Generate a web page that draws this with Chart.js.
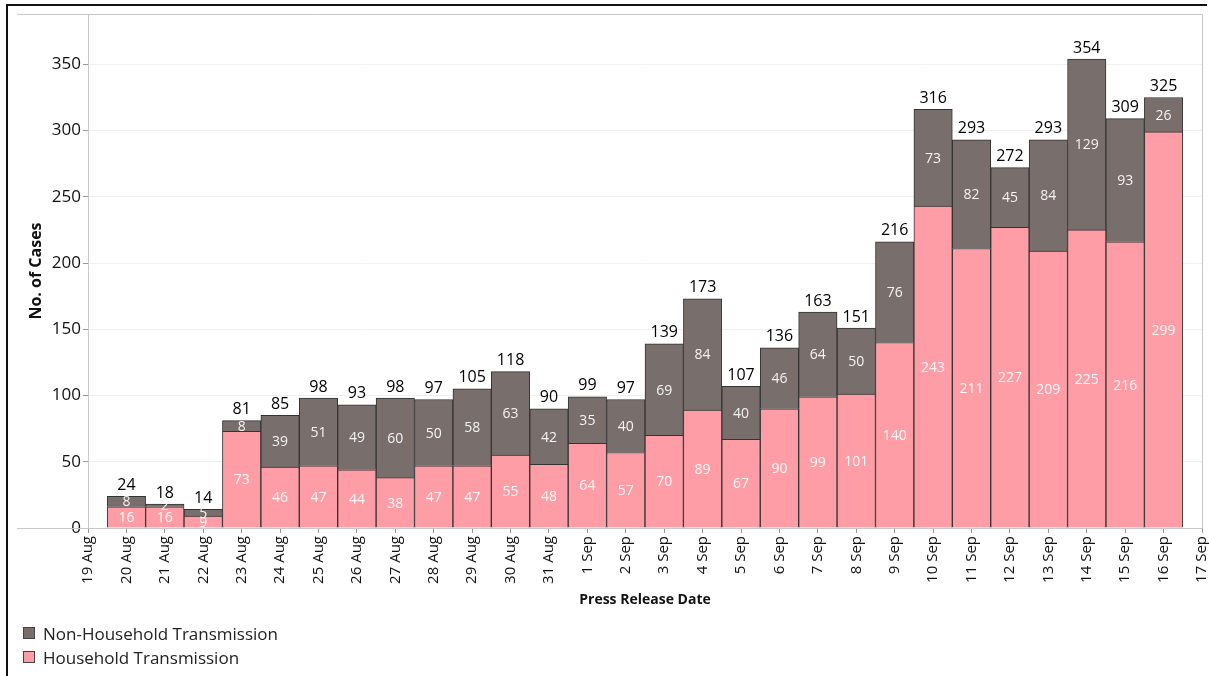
<!DOCTYPE html>
<html>
<head>
<meta charset="utf-8">
<script src="https://cdn.jsdelivr.net/npm/chart.js@4.4.1/dist/chart.umd.min.js"></script>
<style>
  html, body { margin: 0; padding: 0; background: #fff; }
  body { width: 1209px; height: 676px; position: relative; overflow: hidden; font-family: "Open Sans", sans-serif; }
  #frame { position: absolute; left: 6px; top: 4px; width: 1199px; height: 680px; border-top: 2px solid #111; border-left: 2px solid #111; }
  #wrap { position: absolute; left: 0; top: 0; width: 1209px; height: 676px; }
  #legend { position: absolute; left: 23px; top: 621px; font-size: 17px; color: #222; }
  .item { display: flex; align-items: center; height: 24px; }
  .swatch { width: 10px; height: 10px; border: 1px solid #444; margin-right: 8px; }
</style>
</head>
<body>
<div id="frame"></div>
<div id="wrap"><canvas id="chart" width="1209" height="676"></canvas></div>
<div id="legend">
  <div class="item"><span class="swatch" style="background:#786e6b"></span>Non-Household Transmission</div>
  <div class="item"><span class="swatch" style="background:#ff9da6"></span>Household Transmission</div>
</div>
<script>
// axis labels: one day before and after the bars
const dateLabels = [
  "19 Aug", "20 Aug", "21 Aug", "22 Aug", "23 Aug", "24 Aug", "25 Aug", "26 Aug", "27 Aug",
  "28 Aug", "29 Aug", "30 Aug", "31 Aug", "1 Sep", "2 Sep", "3 Sep", "4 Sep", "5 Sep",
  "6 Sep", "7 Sep", "8 Sep", "9 Sep", "10 Sep", "11 Sep", "12 Sep", "13 Sep", "14 Sep",
  "15 Sep", "16 Sep", "17 Sep"
];

// 20 Aug .. 16 Sep
const household = [16, 16, 9, 73, 46, 47, 44, 38, 47, 47, 55, 48, 64, 57, 70, 89, 67, 90, 99, 101, 140, 243, 211, 227, 209, 225, 216, 299];
const nonHousehold = [8, 2, 5, 8, 39, 51, 49, 60, 50, 58, 63, 42, 35, 40, 69, 84, 40, 46, 64, 50, 76, 73, 82, 45, 84, 129, 93, 26];

const yTicks = [0, 50, 100, 150, 200, 250, 300, 350];

const pad = arr => [null, ...arr, null];

const FONT = "'Open Sans', sans-serif";

// 🔹 value labels inside segments + totals on top
const labelPlugin = {
  id: "labels",
  afterDatasetsDraw(chart) {
    const ctx = chart.ctx;
    ctx.save();
    ctx.textAlign = "center";
    ctx.textBaseline = "middle";
    ctx.font = "14px " + FONT;
    ctx.fillStyle = "rgba(255,255,255,0.92)";
    chart.data.datasets.forEach((ds, di) => {
      chart.getDatasetMeta(di).data.forEach((el, i) => {
        if (ds.data[i] == null) return;
        ctx.fillText(ds.data[i], el.x, (el.y + el.base) / 2 + 1);
      });
    });
    const topMeta = chart.getDatasetMeta(1);
    ctx.font = "16px " + FONT;
    ctx.fillStyle = "#000";
    ctx.textBaseline = "bottom";
    topMeta.data.forEach((el, i) => {
      const a = chart.data.datasets[0].data[i];
      const b = chart.data.datasets[1].data[i];
      if (a == null) return;
      ctx.fillText(a + b, el.x, el.y - 3);
    });
    ctx.restore();
  }
};

// 🔹 pane borders (Tableau style)
const panePlugin = {
  id: "pane",
  afterDraw(chart) {
    const { ctx, chartArea } = chart;
    ctx.save();
    ctx.strokeStyle = "#c8c8c8";
    ctx.lineWidth = 1;
    ctx.beginPath();
    ctx.moveTo(17, chartArea.top + 0.5);
    ctx.lineTo(chartArea.right + 0.5, chartArea.top + 0.5);
    ctx.lineTo(chartArea.right + 0.5, chartArea.bottom + 0.5);
    ctx.moveTo(17, chartArea.bottom + 0.5);
    ctx.lineTo(chartArea.right + 0.5, chartArea.bottom + 0.5);
    ctx.stroke();
    ctx.restore();
  }
};

new Chart(document.getElementById("chart"), {
  type: "bar",
  data: {
    labels: dateLabels,
    datasets: [
      {
        label: "Household Transmission",
        data: pad(household),
        backgroundColor: "#ff9da6",
        borderColor: "#333",
        borderWidth: 1,
        barPercentage: 1,
        categoryPercentage: 1
      },
      {
        label: "Non-Household Transmission",
        data: pad(nonHousehold),
        backgroundColor: "#786e6b",
        borderColor: "#333",
        borderWidth: 1,
        barPercentage: 1,
        categoryPercentage: 1
      }
    ]
  },
  options: {
    responsive: false,
    animation: false,
    layout: { padding: { left: 20, top: 14, right: 7, bottom: 64 } },
    plugins: { legend: { display: false }, tooltip: { enabled: false } },
    scales: {
      x: {
        stacked: true,
        offset: false,
        afterFit: s => { s.height = 84; s.paddingLeft = 0; s.paddingRight = 0; },
        grid: { display: true, drawOnChartArea: false, offset: false, tickLength: 5, tickColor: "#999" },
        border: { display: false },
        ticks: {
          autoSkip: false, minRotation: 90, maxRotation: 90, padding: 3,
          color: "#111", font: { family: FONT, size: 15 }
        },
        title: {
          display: true, text: "Press Release Date", color: "#111",
          font: { family: FONT, size: 14, weight: "bold" }, padding: { top: 0, bottom: 4 }
        }
      },
      y: {
        stacked: true,
        min: 0,
        max: 388,
        afterFit: s => { s.width = 68; },
        afterBuildTicks: s => { s.ticks = yTicks.map(v => ({ value: v })); },
        grid: { color: "#f0f0f0", tickLength: 5, tickColor: "#999" },
        border: { color: "#c8c8c8" },
        ticks: { padding: 2, color: "#111", font: { family: FONT, size: 17 } },
        title: {
          display: true, text: "No. of Cases", color: "#111",
          font: { family: FONT, size: 16, weight: "bold" }, padding: { top: 7, bottom: 0 }
        }
      }
    }
  },
  plugins: [labelPlugin, panePlugin]
});
</script>
</body>
</html>
